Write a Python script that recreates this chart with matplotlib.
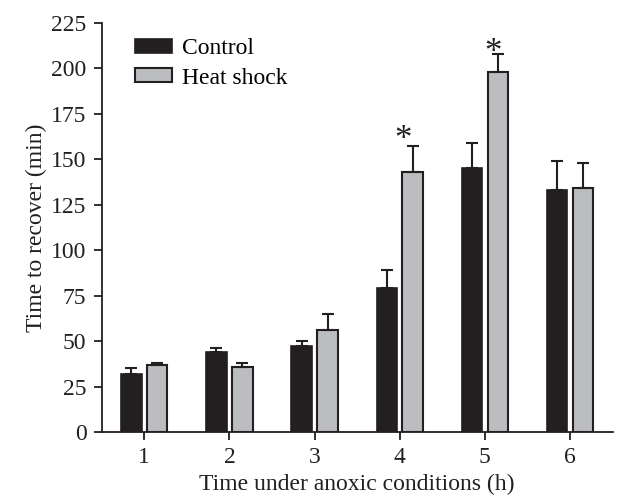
import matplotlib.pyplot as plt
import numpy as np

plt.rcParams["font.family"] = ["Liberation Serif", "DejaVu Serif"]

hours = [1, 2, 3, 4, 5, 6]
control_mean = [32, 44, 47, 79, 145, 133]
control_err = [3, 2, 3, 10, 14, 16]
heat_mean = [37, 36, 56, 143, 198, 134]
heat_err = [1, 2, 9, 14, 10, 14]
star_x = [4.04, 5.1]
star_y = [160, 208]

x = np.array(hours, dtype=float)
width = 0.24
offset = 0.152

fig = plt.figure(figsize=(6.29, 4.97), dpi=100)
ax = fig.add_axes([0.1617, 0.1308, 0.8123, 0.8235])

err_kw = dict(ecolor="#231f20", elinewidth=1.5, capsize=4, capthick=1.5)
ax.bar(x - offset, control_mean, width, color="#231f20", edgecolor="#231f20",
       linewidth=1.2, label="Control",
       yerr=[np.zeros(len(control_err)), control_err], error_kw=err_kw)
ax.bar(x + offset, heat_mean, width, color="#bcbdc0", edgecolor="#231f20",
       linewidth=1.5, label="Heat shock",
       yerr=[np.zeros(len(heat_err)), heat_err], error_kw=err_kw)

for sx, sy in zip(star_x, star_y):
    ax.text(sx, sy, "*", ha="center", va="center", fontsize=25, color="#231f20")

ax.set_xlim(0.5, 6.5)
ax.set_ylim(0, 225)
ax.set_yticks(range(0, 226, 25))
ax.set_xticks(hours)
ax.spines["top"].set_visible(False)
ax.spines["right"].set_visible(False)
for s in ("left", "bottom"):
    ax.spines[s].set_linewidth(1.3)
    ax.spines[s].set_color("#231f20")
ax.tick_params(direction="out", length=6, width=1.3, labelsize=17, colors="#231f20", pad=5)
ax.set_xlabel("Time under anoxic conditions (h)", fontsize=17, color="#231f20", labelpad=4)
ax.set_ylabel("Time to recover (min)", fontsize=17, color="#231f20", labelpad=3)

ax.legend(loc="upper left", bbox_to_anchor=(0.047, 0.985), frameon=False,
          fontsize=17, handlelength=1.54, handleheight=0.55,
          handletextpad=0.45, labelspacing=0.35, borderaxespad=0)

fig.savefig("out.png", dpi=100)
